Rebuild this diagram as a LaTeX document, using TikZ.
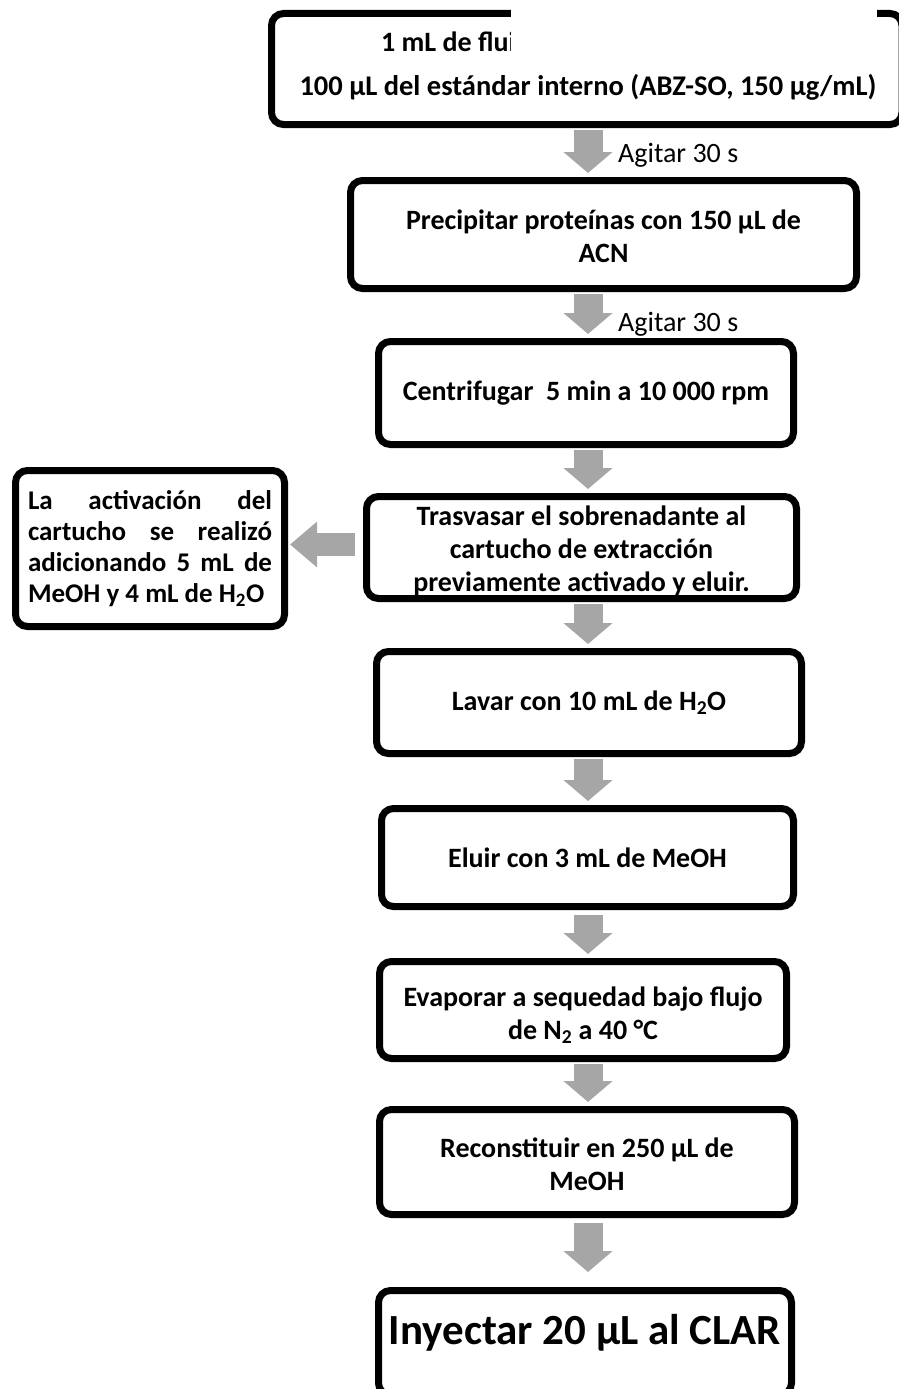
\documentclass[tikz,border=0pt]{standalone}
\usepackage{fontspec}
\setmainfont{Carlito}
\usetikzlibrary{arrows.meta,shadows}
\definecolor{arrowgray}{HTML}{A6A6A6}
% centred lines whose ink is moved by #1 while the box keeps its size
\newcommand{\shiftedlines}[2]{\raisebox{#1}[\height][\depth]{\begin{tabular}{@{}c@{}}#2\end{tabular}}}
\begin{document}
\begin{tikzpicture}[x=1pt,y=-1pt,
  stepbox/.style={draw=black, line width=7pt, rounded corners=12pt, fill=white,
    inner sep=0pt, align=center, font=\fontsize{28}{33}\selectfont\bfseries,
    drop shadow={shadow xshift=-2pt, shadow yshift=-3pt, fill=black, opacity=0.25}},
  boxtext/.style={inner sep=0pt, font=\fontsize{28}{33}\selectfont\bfseries},
  steplabel/.style={inner sep=0pt, font=\fontsize{28}{33}\selectfont},
  downarrow/.style={draw=arrowgray, line width=29pt,
    -{Triangle[width=48pt,length=21pt]}, shorten <=2pt, shorten >=4pt},
  sidearrow/.style={draw=arrowgray, line width=23pt,
    -{Triangle[width=44pt,length=27pt]}, shorten <=8pt, shorten >=2pt}
]
\useasboundingbox (0,0) rectangle (898,1389);
\coordinate (ax) at (588,0);

% first step: sample and internal standard
\node[stepbox, minimum width=630.5pt, minimum height=111pt] (b1) at (586.75,69) {};
\node[boxtext, anchor=base west] (t1a) at (381,52) {1 mL de flui};
\node[boxtext, font=\fontsize{28.5}{33}\selectfont\bfseries] (t1b) at (588,87)
  {100 µL del estándar interno (ABZ-SO, 150 µg/mL)};
\fill[white] (511,-2) rectangle (877,54);

\node[stepbox, minimum width=506pt, minimum height=108pt] (b2) at (603.5,234.5)
  {\shiftedlines{-5pt}{Precipitar proteínas con 150 µL de\\ACN}};
\node[stepbox, minimum width=415pt, minimum height=103pt] (b3) at (586,393)
  {Centrifugar\ \ 5 min a 10 000 rpm};
\node[stepbox, minimum width=430pt, minimum height=102pt] (b4) at (581.5,547.5)
  {\shiftedlines{-4pt}{Trasvasar el sobrenadante al\\cartucho de extracción\\previamente activado y eluir.}};
\node[stepbox, minimum width=269pt, minimum height=156pt] (L) at (150,548.5)
  {\parbox{244pt}{\fontsize{27}{31}\selectfont\bfseries
    \makebox[\linewidth][s]{La activación del}\\
    \makebox[\linewidth][s]{cartucho se realizó}\\
    \makebox[\linewidth][s]{adicionando 5 mL de}\\
    MeOH y 4 mL de H\textsubscript{2}O}};
\node[stepbox, minimum width=425pt, minimum height=102pt] (b5) at (589,702.5)
  {Lavar con 10 mL de H\textsubscript{2}O};
\node[stepbox, minimum width=412pt, minimum height=98pt] (b6) at (587.5,857.5)
  {Eluir con 3 mL de MeOH};
\node[stepbox, minimum width=407pt, minimum height=97pt] (b7) at (583,1010)
  {\shiftedlines{-6pt}{Evaporar a sequedad bajo flujo\\de N\textsubscript{2} a 40 °C}};
\node[stepbox, minimum width=415pt, minimum height=105pt] (b8) at (587,1162)
  {\shiftedlines{-5pt}{Reconstituir en 250 µL de\\MeOH}};
\node[stepbox, minimum width=413pt, minimum height=104.5pt, font=\fontsize{43}{50}\selectfont\bfseries]
  (b9) at (585,1342.75) {\shiftedlines{8pt}{Inyectar 20 µL al CLAR}};

% connectors
\draw[downarrow] (b1.south -| ax) -- (b2.north -| ax);
\draw[downarrow] (b2.south -| ax) -- (b3.north -| ax);
\draw[downarrow] (b3.south -| ax) -- (b4.north -| ax);
\draw[downarrow] (b4.south -| ax) -- (b5.north -| ax);
\draw[downarrow] (b5.south -| ax) -- (b6.north -| ax);
\draw[downarrow, shorten <=5pt] (b6.south -| ax) -- (b7.north -| ax);
\draw[downarrow] (b7.south -| ax) -- (b8.north -| ax);
\draw[downarrow, shorten <=5pt, shorten >=15pt] (b8.south -| ax) -- (b9.north -| ax);
\draw[sidearrow] ([yshift=3pt]b4.west) -- ([yshift=3pt]b4.west -| L.east);

\node[steplabel, anchor=base west] (g1) at (618,162) {Agitar 30 s};
\node[steplabel, anchor=base west] (g2) at (618,331) {Agitar 30 s};
\end{tikzpicture}
\end{document}
